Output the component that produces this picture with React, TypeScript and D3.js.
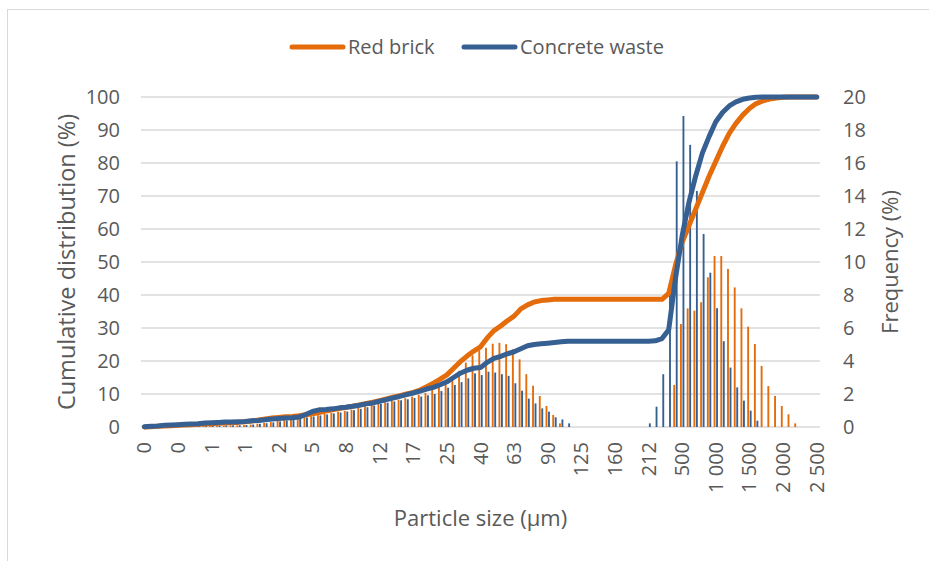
import React from "react";
import * as d3 from "d3";

// Particle-size bins (101 laser-diffraction classes); every 5th bin is labelled on the axis.
const sizeTickLabels = [
  "0", "0", "1", "1", "2", "5", "8", "12", "17", "25", "40", "63", "90",
  "125", "160", "212", "500", "1 000", "1 500", "2 000", "2 500",
];
const labelEvery = 5;

// Frequency (%) per bin
const redBrickFreq = [
  0.02, 0.03, 0.04, 0.05, 0.05, 0.06, 0.06, 0.07, 0.07, 0.08,
  0.08, 0.09, 0.09, 0.1, 0.1, 0.12, 0.15, 0.2, 0.25, 0.3,
  0.38, 0.42, 0.48, 0.55, 0.6, 0.66, 0.72, 0.8, 0.86, 0.92,
  0.98, 1.06, 1.15, 1.25, 1.35, 1.42, 1.5, 1.58, 1.66, 1.75,
  1.84, 1.95, 2.06, 2.24, 2.45, 2.62, 2.9, 3.4, 3.9, 4.35,
  4.65, 4.8, 5.05, 5.1, 5.02, 4.7, 4.1, 3.2, 2.5, 1.88,
  1.27, 0.73, 0.22, 0, 0, 0, 0, 0, 0, 0,
  0, 0, 0, 0, 0, 0, 0, 0, 0, 2.55,
  6.24, 7.19, 7.05, 7.56, 9.07, 10.36, 10.36, 9.58, 8.46, 7.19,
  6.08, 5.03, 3.7, 2.48, 1.88, 1.27, 0.77, 0.22, 0, 0,
  0,
];
const concreteFreq = [
  0.02, 0.03, 0.04, 0.05, 0.06, 0.06, 0.07, 0.07, 0.08, 0.08,
  0.09, 0.09, 0.1, 0.1, 0.11, 0.12, 0.15, 0.19, 0.23, 0.28,
  0.34, 0.4, 0.46, 0.52, 0.58, 0.64, 0.7, 0.76, 0.82, 0.88,
  0.94, 1.02, 1.1, 1.2, 1.3, 1.4, 1.47, 1.55, 1.62, 1.68,
  1.76, 1.85, 1.92, 2.0, 2.18, 2.38, 2.55, 2.72, 2.95, 3.25,
  3.15, 3.35, 3.3, 3.2, 3.1, 2.65, 2.2, 1.72, 1.43, 1.13,
  0.93, 0.59, 0.46, 0.22, 0, 0, 0, 0, 0, 0,
  0, 0, 0, 0, 0, 0.22, 1.23, 3.2, 8.7, 16.1,
  18.85, 17.1, 14.3, 11.7, 9.35, 7.2, 5.2, 3.6, 2.4, 1.6,
  0.99, 0.38, 0, 0, 0, 0, 0, 0, 0, 0,
  0,
];

// Cumulative distribution (%) per bin
const redBrickCum = [
  0, 0.1, 0.2, 0.3, 0.4, 0.5, 0.6, 0.7, 0.8, 0.9,
  1.0, 1.1, 1.2, 1.3, 1.4, 1.6, 1.8, 2.1, 2.4, 2.7,
  2.9, 3.1, 3.2, 3.4, 3.7, 4.0, 4.4, 4.8, 5.2, 5.6,
  6.0, 6.3, 6.7, 7.1, 7.5, 8.0, 8.5, 9.0, 9.5, 10.0,
  10.5, 11.2, 12.2, 13.3, 14.5, 15.8, 17.8, 19.8, 21.5, 23.0,
  24.3, 27.0, 29.2, 30.6, 32.2, 33.6, 35.8, 37.0, 37.9, 38.3,
  38.5, 38.7, 38.7, 38.7, 38.7, 38.7, 38.7, 38.7, 38.7, 38.7,
  38.7, 38.7, 38.7, 38.7, 38.7, 38.7, 38.7, 38.7, 40.5, 49,
  56, 61, 66, 71, 76, 80.5, 85, 89, 92, 94.5,
  96.5, 98, 98.8, 99.4, 99.7, 99.9, 100, 100, 100, 100,
  100,
];
const concreteCum = [
  0.1, 0.2, 0.3, 0.5, 0.6, 0.7, 0.8, 0.9, 1.0, 1.2,
  1.3, 1.4, 1.5, 1.5, 1.6, 1.7, 1.9, 2.0, 2.2, 2.4,
  2.6, 2.7, 2.8, 3.0, 3.8, 4.7, 5.2, 5.3, 5.5, 5.8,
  6.0, 6.3, 6.6, 7.0, 7.3, 7.8, 8.3, 8.8, 9.3, 9.8,
  10.3, 10.9, 11.5, 12.0, 12.8, 13.7, 15.0, 16.3, 17.2, 17.8,
  18.0, 19.6, 20.8, 21.4, 22.2, 22.8, 23.7, 24.6, 25.0, 25.2,
  25.4, 25.6, 25.8, 26.0, 26.0, 26.0, 26.0, 26.0, 26.0, 26.0,
  26.0, 26.0, 26.0, 26.0, 26.0, 26.0, 26.1, 26.8, 29.5, 45,
  58, 68, 76, 83, 88, 92.5, 95.3, 97.3, 98.5, 99.3,
  99.7, 99.9, 100, 100, 100, 100, 100, 100, 100, 100,
  100,
];

const cumTicks = [0, 10, 20, 30, 40, 50, 60, 70, 80, 90, 100];
const freqTicks = [0, 2, 4, 6, 8, 10, 12, 14, 16, 18, 20];

const seriesNames = ["Red brick", "Concrete waste"];
const ORANGE = "#E46C0A";
const BLUE = "#376092";
const TEXT = "#595959";
const GRID = "#D9D9D9";
const FONT = "'Open Sans', 'Liberation Sans', sans-serif";

const W = 929;
const H = 561;
const left = 141;
const right = 820;
const top = 97;
const bottom = 427;

export default function App() {
  const bins = d3.range(redBrickFreq.length);

  const x = d3
    .scaleBand<number>()
    .domain(bins)
    .range([left, right])
    .paddingInner(0.35)
    .paddingOuter(0.175);
  const xs = d3
    .scaleBand<string>()
    .domain(["red", "concrete"])
    .range([0, x.bandwidth()])
    .paddingInner(0.25);
  const cx = (i: number) => (x(i) as number) + x.bandwidth() / 2;

  const yCum = d3.scaleLinear().domain([0, 100]).range([bottom, top]);
  const yFreq = d3.scaleLinear().domain([0, 20]).range([bottom, top]);

  const line = d3
    .line<number>()
    .x((_, i) => cx(i))
    .y((d) => yCum(d))
    .curve(d3.curveLinear);

  const bars = [
    { key: "red", data: redBrickFreq, color: ORANGE },
    { key: "concrete", data: concreteFreq, color: BLUE },
  ];

  return (
    <svg
      width={W}
      height={H}
      style={{ position: "absolute", left: 0, top: 0, background: "#fff" }}
      fontFamily={FONT}
    >
      <rect x={0} y={0} width={W} height={H} fill="#fff" />
      <rect x={7.5} y={9.5} width={W + 20} height={H + 20} fill="none" stroke={GRID} strokeWidth={1} />

      {/* horizontal gridlines */}
      {cumTicks.map((t) => (
        <line key={t} x1={left} x2={right} y1={yCum(t)} y2={yCum(t)} stroke={GRID} strokeWidth={1.4} />
      ))}

      {/* frequency bars */}
      {bars.map((s) =>
        s.data.map((v, i) =>
          v > 0 ? (
            <rect
              key={s.key + i}
              x={(x(i) as number) + (xs(s.key) as number)}
              y={yFreq(v)}
              width={xs.bandwidth()}
              height={yFreq(0) - yFreq(v)}
              fill={s.color}
            />
          ) : null
        )
      )}

      {/* cumulative curves */}
      <path d={line(redBrickCum) || ""} fill="none" stroke={ORANGE} strokeWidth={5} strokeLinejoin="round" strokeLinecap="round" />
      <path d={line(concreteCum) || ""} fill="none" stroke={BLUE} strokeWidth={5} strokeLinejoin="round" strokeLinecap="round" />

      {/* left axis */}
      {cumTicks.map((t) => (
        <text key={"l" + t} x={120} y={yCum(t)} dy="0.35em" textAnchor="end" fontSize={20} fill={TEXT}>
          {t}
        </text>
      ))}
      {/* right axis */}
      {freqTicks.map((t) => (
        <text key={"r" + t} x={843} y={yFreq(t)} dy="0.35em" textAnchor="start" fontSize={20} fill={TEXT}>
          {t}
        </text>
      ))}
      {/* category labels */}
      {sizeTickLabels.map((lab, k) => {
        const i = k * labelEvery;
        return (
          <text
            key={"x" + k}
            transform={`translate(${cx(i)},442) rotate(-90)`}
            dy="0.35em"
            textAnchor="end"
            fontSize={20}
            fill={TEXT}
          >
            {lab}
          </text>
        );
      })}

      {/* axis titles */}
      <text transform={`translate(67,${(top + bottom) / 2}) rotate(-90)`} dy="0.35em" textAnchor="middle" fontSize={23.5} fill={TEXT}>
        Cumulative distribution (%)
      </text>
      <text transform={`translate(890,${(top + bottom) / 2}) rotate(-90)`} dy="0.35em" textAnchor="middle" fontSize={22} fill={TEXT}>
        Frequency (%)
      </text>
      <text x={(left + right) / 2} y={526} textAnchor="middle" fontSize={22} fill={TEXT}>
        Particle size (µm)
      </text>

      {/* legend */}
      <g>
        <line x1={292} x2={343} y1={47} y2={47} stroke={ORANGE} strokeWidth={5} strokeLinecap="round" />
        <text x={348} y={47} dy="0.35em" fontSize={20} fill={TEXT}>
          {seriesNames[0]}
        </text>
        <line x1={464} x2={515} y1={47} y2={47} stroke={BLUE} strokeWidth={5} strokeLinecap="round" />
        <text x={520} y={47} dy="0.35em" fontSize={20} fill={TEXT}>
          {seriesNames[1]}
        </text>
      </g>
    </svg>
  );
}
